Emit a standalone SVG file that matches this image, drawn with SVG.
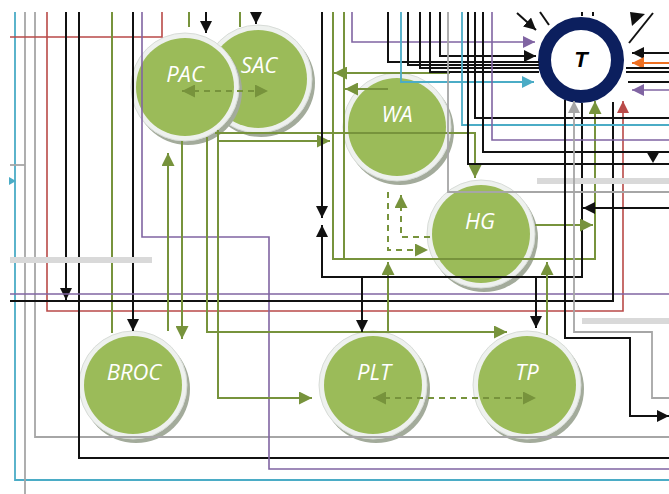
<svg xmlns="http://www.w3.org/2000/svg" width="669" height="494" viewBox="0 0 669 494">
<defs>
<style>
.k{stroke:#111;stroke-width:2;fill:none}
.g{stroke:#77933C;stroke-width:2;fill:none}
.p{stroke:#8064A2;stroke-width:1.6;fill:none}
.c{stroke:#4BACC6;stroke-width:1.8;fill:none}
.r{stroke:#B94A48;stroke-width:1.6;fill:none}
.y{stroke:#A6A6A6;stroke-width:1.8;fill:none}
.o{stroke:#EE7022;stroke-width:2.2;fill:none}
.band{stroke:#D9D9D9;stroke-width:6;fill:none}
.dash{stroke-dasharray:6 5}
.shadow{fill:#a3ab9b}
.halo{fill:#eef1ee;stroke:#d8dcd8;stroke-width:1}
.fill{fill:#9BBB59}
.lbl{font-family:"Open Sans","Noto Sans",sans-serif;font-style:italic;font-size:22px;fill:#fff;text-anchor:middle}
.tl{font-family:"Liberation Sans",Arial,sans-serif;font-style:italic;font-weight:bold;font-size:22px;fill:#000;text-anchor:middle}
</style>
<marker id="ak" viewBox="0 0 12 12" refX="12" refY="6" markerWidth="12" markerHeight="12" markerUnits="userSpaceOnUse" orient="auto-start-reverse"><path d="M0,0L12,6L0,12z" fill="#111"/></marker>
<marker id="ag" viewBox="0 0 12 12" refX="12" refY="6" markerWidth="13" markerHeight="13" markerUnits="userSpaceOnUse" orient="auto-start-reverse"><path d="M0,0L12,6L0,12z" fill="#77933C"/></marker>
<marker id="ap" viewBox="0 0 12 12" refX="12" refY="6" markerWidth="12" markerHeight="12" markerUnits="userSpaceOnUse" orient="auto"><path d="M0,0L12,6L0,12z" fill="#8064A2"/></marker>
<marker id="ac" viewBox="0 0 12 12" refX="12" refY="6" markerWidth="12" markerHeight="12" markerUnits="userSpaceOnUse" orient="auto"><path d="M0,0L12,6L0,12z" fill="#4BACC6"/></marker>
<marker id="ar" viewBox="0 0 12 12" refX="12" refY="6" markerWidth="12" markerHeight="12" markerUnits="userSpaceOnUse" orient="auto"><path d="M0,0L12,6L0,12z" fill="#B94A48"/></marker>
<marker id="ay" viewBox="0 0 12 12" refX="12" refY="6" markerWidth="12" markerHeight="12" markerUnits="userSpaceOnUse" orient="auto"><path d="M0,0L12,6L0,12z" fill="#A6A6A6"/></marker>
<marker id="ao" viewBox="0 0 12 12" refX="12" refY="6" markerWidth="12" markerHeight="12" markerUnits="userSpaceOnUse" orient="auto"><path d="M0,0L12,6L0,12z" fill="#EE7022"/></marker>
</defs>
<rect width="669" height="494" fill="#fff"/>

<g id="nodes">
<g id="node-SAC"><circle class="shadow" cx="261" cy="83" r="54"/><circle class="halo" cx="258" cy="79" r="54"/><circle class="fill" cx="258" cy="79" r="49"/><text class="lbl" x="259" y="73">SAC</text></g>
<g id="node-PAC"><circle class="shadow" cx="188" cy="91" r="54"/><circle class="halo" cx="185" cy="87" r="54"/><circle class="fill" cx="185" cy="87" r="49"/><text class="lbl" x="185" y="82">PAC</text></g>
<g id="node-WA"><circle class="shadow" cx="400" cy="131" r="54"/><circle class="halo" cx="397" cy="127" r="54"/><circle class="fill" cx="397" cy="127" r="49"/><text class="lbl" x="397" y="122">WA</text></g>
<g id="node-HG"><circle class="shadow" cx="484" cy="238" r="54"/><circle class="halo" cx="481" cy="234" r="54"/><circle class="fill" cx="481" cy="234" r="49"/><text class="lbl" x="480" y="229">HG</text></g>
<g id="node-BROC"><circle class="shadow" cx="136" cy="389" r="54"/><circle class="halo" cx="133" cy="385" r="54"/><circle class="fill" cx="133" cy="385" r="49"/><text class="lbl" x="134" y="380">BROC</text></g>
<g id="node-PLT"><circle class="shadow" cx="376" cy="389" r="54"/><circle class="halo" cx="373" cy="385" r="54"/><circle class="fill" cx="373" cy="385" r="49"/><text class="lbl" x="374" y="380">PLT</text></g>
<g id="node-TP"><circle class="shadow" cx="530" cy="389" r="54"/><circle class="halo" cx="527" cy="385" r="54"/><circle class="fill" cx="527" cy="385" r="49"/><text class="lbl" x="527" y="380">TP</text></g>
<g id="node-T"><circle cx="581" cy="60" r="36.5" fill="#fff" stroke="#0C1F5E" stroke-width="13"/><text class="tl" x="581" y="67">T</text></g>
</g>

<g id="connectors">
<!-- left side -->
<path class="c" d="M15,12V480H669"/>
<polygon points="9,177 16,181 9,185" fill="#4BACC6"/>
<path class="y" d="M25,12V494"/>
<path class="y" d="M10,165H25"/>
<path class="y" d="M35,12V437H669"/>
<path class="r" d="M47,12V311H623V101" marker-end="url(#ar)"/>
<path class="r" d="M10,37H162V12"/>
<path class="k" d="M66,12V300" marker-end="url(#ak)"/>
<path class="k" d="M79,12V458H669"/>
<path class="g" d="M112,12V333"/>
<path class="k" d="M133,12V331" marker-end="url(#ak)"/>
<path class="p" d="M142,12V237H269V469H669"/>
<path class="band" d="M10,260H152"/>
<path class="p" d="M10,294H669"/>
<path class="k" d="M613,102V301H10"/>
<!-- PAC / SAC top -->
<path class="g" d="M189,12V27"/>
<path class="k" d="M206,12V33" marker-end="url(#ak)"/>
<path class="g" d="M240,12V27"/>
<path class="k" d="M256,12V24" marker-end="url(#ak)"/>
<!-- PAC / BROC -->
<path class="g" d="M168,331V153" marker-end="url(#ag)"/>
<path class="g" d="M182,141V339" marker-end="url(#ag)"/>
<path class="g" d="M207,137V332H507" marker-end="url(#ag)"/>
<path class="g" d="M388,332V262" marker-end="url(#ag)"/>
<path class="g" d="M218,130V398H312" marker-end="url(#ag)"/>
<path class="g" d="M218,141H330" marker-end="url(#ag)"/>
<path class="g" d="M215,133H475V178" marker-end="url(#ag)"/>
<!-- green feed to T -->
<path class="g" d="M333,12V259H595V101" marker-end="url(#ag)"/>
<path class="g" d="M344,12V259"/>
<path class="g" d="M450,73H334" marker-end="url(#ag)"/>
<path class="g" d="M388,89H345" marker-end="url(#ag)"/>
<!-- black network through middle -->
<path class="k" d="M322,12V218" marker-end="url(#ak)"/>
<path class="k" d="M582,103V277H322V225" marker-end="url(#ak)"/>
<path class="k" d="M362,277V332" marker-end="url(#ak)"/>
<path class="k" d="M536,277V328" marker-end="url(#ak)"/>
<path class="g" d="M547,335V262" marker-end="url(#ag)"/>
<path class="g" d="M535,225H593" marker-end="url(#ag)"/>
<!-- dashed -->
<path class="g dash" d="M182,91H268" marker-start="url(#ag)" marker-end="url(#ag)"/>
<path class="g dash" d="M388,192V250H428" marker-end="url(#ag)"/>
<path class="g dash" d="M430,237H401V195" marker-end="url(#ag)"/>
<path class="g dash" d="M373,398H536" marker-start="url(#ag)" marker-end="url(#ag)"/>
<!-- into T from left -->
<path class="p" d="M352,12V42H535" marker-end="url(#ap)"/>
<path class="k" d="M440,12V56H536" marker-end="url(#ak)"/>
<path class="k" d="M388,12V62H539"/>
<path class="k" d="M408,12V65H539"/>
<path class="k" d="M420,12V68H539"/>
<path class="k" d="M430,12V72H539"/>
<path class="c" d="M401,12V82H534" marker-end="url(#ac)"/>
<!-- long verticals to right edge -->
<path class="y" d="M448,12V192H669"/>
<path class="c" d="M462,12V125H669"/>
<path class="k" d="M468,12V164H669"/>
<path class="k" d="M475,12V118H669"/>
<path class="k" d="M483,12V152H669"/>
<path class="p" d="M492,12V140H669"/>
<polygon points="646,151 660,151 653,163" fill="#111"/>
<path class="band" d="M537,181H669"/>
<path class="k" d="M669,208H583" marker-end="url(#ak)"/>
<!-- below T -->
<path class="k" d="M565,100V338H630V416H669" marker-end="url(#ak)"/>
<path class="y" d="M669,398H652V332H574V101" marker-end="url(#ay)"/>
<path class="band" d="M582,321H669"/>
<!-- right of T -->
<path class="k" d="M669,53H632" marker-end="url(#ak)"/>
<path class="o" d="M669,63H632" marker-end="url(#ao)"/>
<path class="k" d="M669,68H626"/>
<path class="k" d="M669,72H626"/>
<path class="k" d="M669,82H628"/>
<path class="p" d="M669,90H632" marker-end="url(#ap)"/>
<!-- top of T -->
<path class="k" d="M517,13L536,30" marker-end="url(#ak)"/>
<path class="k" d="M540,12L549,25"/>
<path class="k" d="M629,43L653,13"/>
<polygon points="630,12 645,14 632,26" fill="#111"/>
<path class="k" d="M582,12V16M593,12V16"/>
</g>
</svg>
